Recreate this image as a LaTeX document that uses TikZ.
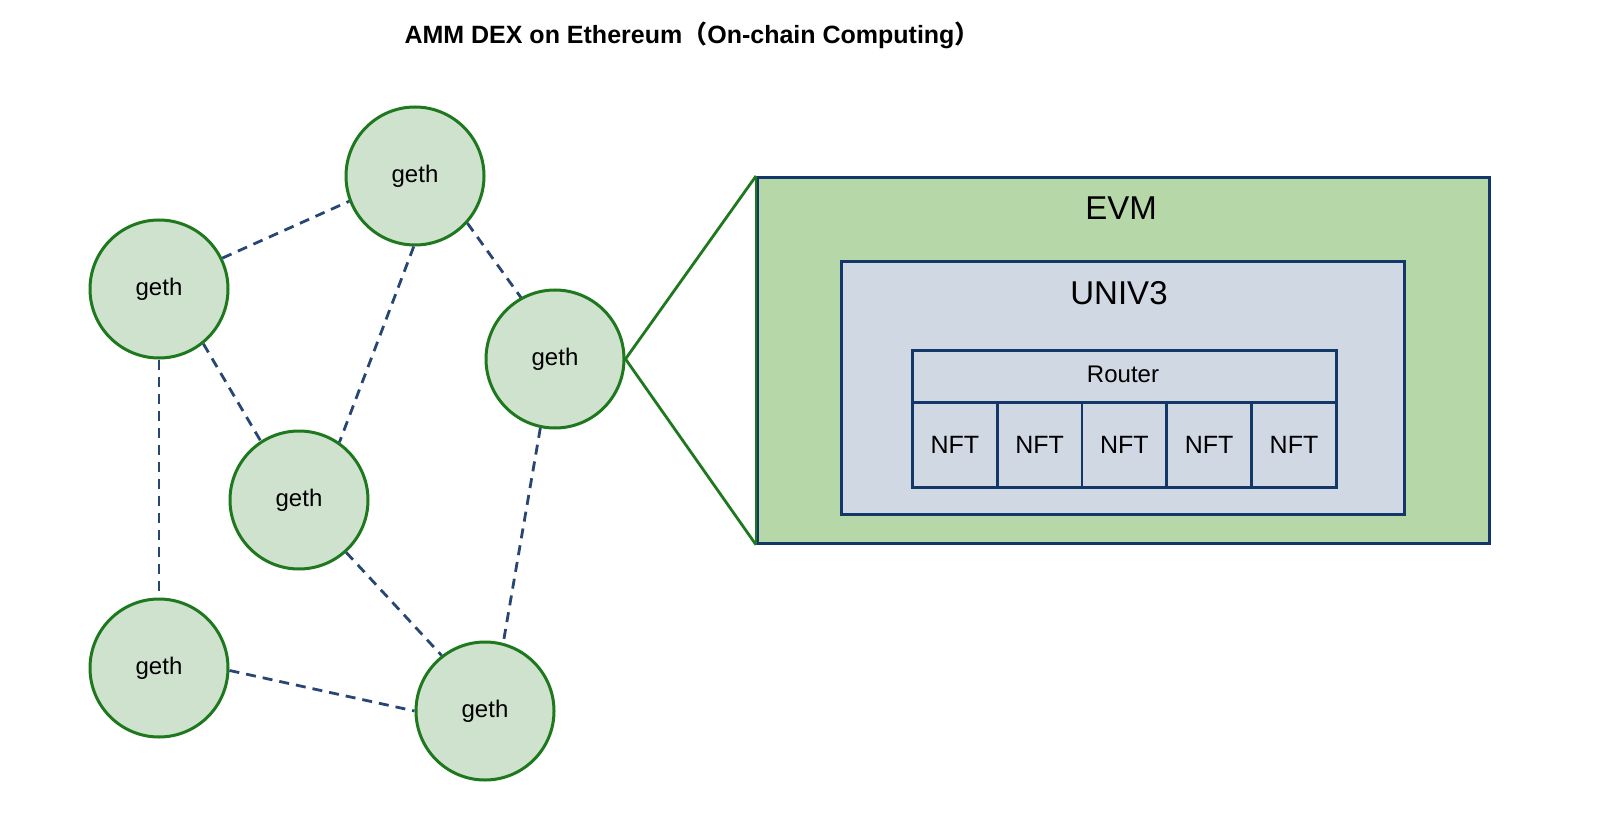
\documentclass[tikz,border=0pt]{standalone}
\usepackage{fontspec}
\setmainfont{Liberation Sans}
\newfontfamily\cjk{Noto Sans CJK SC}
\definecolor{gfill}{RGB}{207,226,206}
\definecolor{gdraw}{RGB}{30,120,30}
\definecolor{evmfill}{RGB}{182,215,168}
\definecolor{bdraw}{RGB}{20,55,105}
\definecolor{ufill}{RGB}{207,216,227}
\definecolor{dashc}{RGB}{40,70,115}
\tikzset{
  gethnode/.style={circle, fill=gfill, draw=gdraw, line width=3pt, minimum size=138pt, inner sep=0pt, font=\fontsize{24}{28}\selectfont},
  link/.style={draw=dashc, line width=2.8pt, dash pattern=on 10pt off 7pt},
  boxnode/.style={draw=bdraw, line width=2.8pt, inner sep=0pt, anchor=north west},
  cellnode/.style={draw=bdraw, line width=2.8pt, fill=ufill, inner sep=0pt, minimum width=84.8pt, minimum height=85pt, font=\fontsize{25}{28}\selectfont},
}
\begin{document}
\begin{tikzpicture}[x=1pt,y=-1pt]
\useasboundingbox[fill=white] (0,0) rectangle (1600,818);
\node[font=\bfseries\fontsize{25}{30}\selectfont] (title) at (692,35) {AMM DEX on Ethereum{\cjk （}On-chain Computing{\cjk ）}};
% geth nodes
\node[gethnode] (A) at (415,176) {geth};
\node[gethnode] (B) at (159,289) {geth};
\node[gethnode] (C) at (555,359) {geth};
\node[gethnode] (D) at (299,500) {geth};
\node[gethnode] (E) at (159,668) {geth};
\node[gethnode] (F) at (485,711) {geth};
% links
\draw[link] (B.26) -- (A.201);
\draw[link] (A.-42) -- (C.119);
\draw[link] (A.269) -- (D.55);
\draw[link] (B.-51) -- (D.123);
\draw[link] (B.270) -- (E.90);
\draw[link] (C.258) -- (F.75);
\draw[link] (D.-48) -- (F.128);
\draw[link] (E.-2) -- (F.180);
% EVM
\node[boxnode, fill=evmfill, minimum width=732pt, minimum height=366pt] (evm) at (756,176) {};
\node[font=\fontsize{33}{38}\selectfont] (evmlabel) at (1121,208) {EVM};
\node[boxnode, fill=ufill, minimum width=563pt, minimum height=253pt] (univ) at (840,260) {};
\node[font=\fontsize{33}{38}\selectfont] (univlabel) at (1119,293) {UNIV3};
\node[boxnode, fill=ufill, minimum width=424pt, minimum height=52pt] (router) at (911,349) {};
\node[font=\fontsize{24}{28}\selectfont] (routerlabel) at (1123,374) {Router};
\foreach \i in {0,...,4} {
  \node[cellnode, anchor=north west] (nft\i) at ({911+84.8*\i},401) {NFT};
}
% zoom lines
\draw[draw=gdraw, line width=2.8pt] (evm.north west) -- (C.east) -- (evm.south west);
\draw[draw=gdraw, line width=2.8pt] (evm.north west) -- (evm.south west);
\end{tikzpicture}
\end{document}
